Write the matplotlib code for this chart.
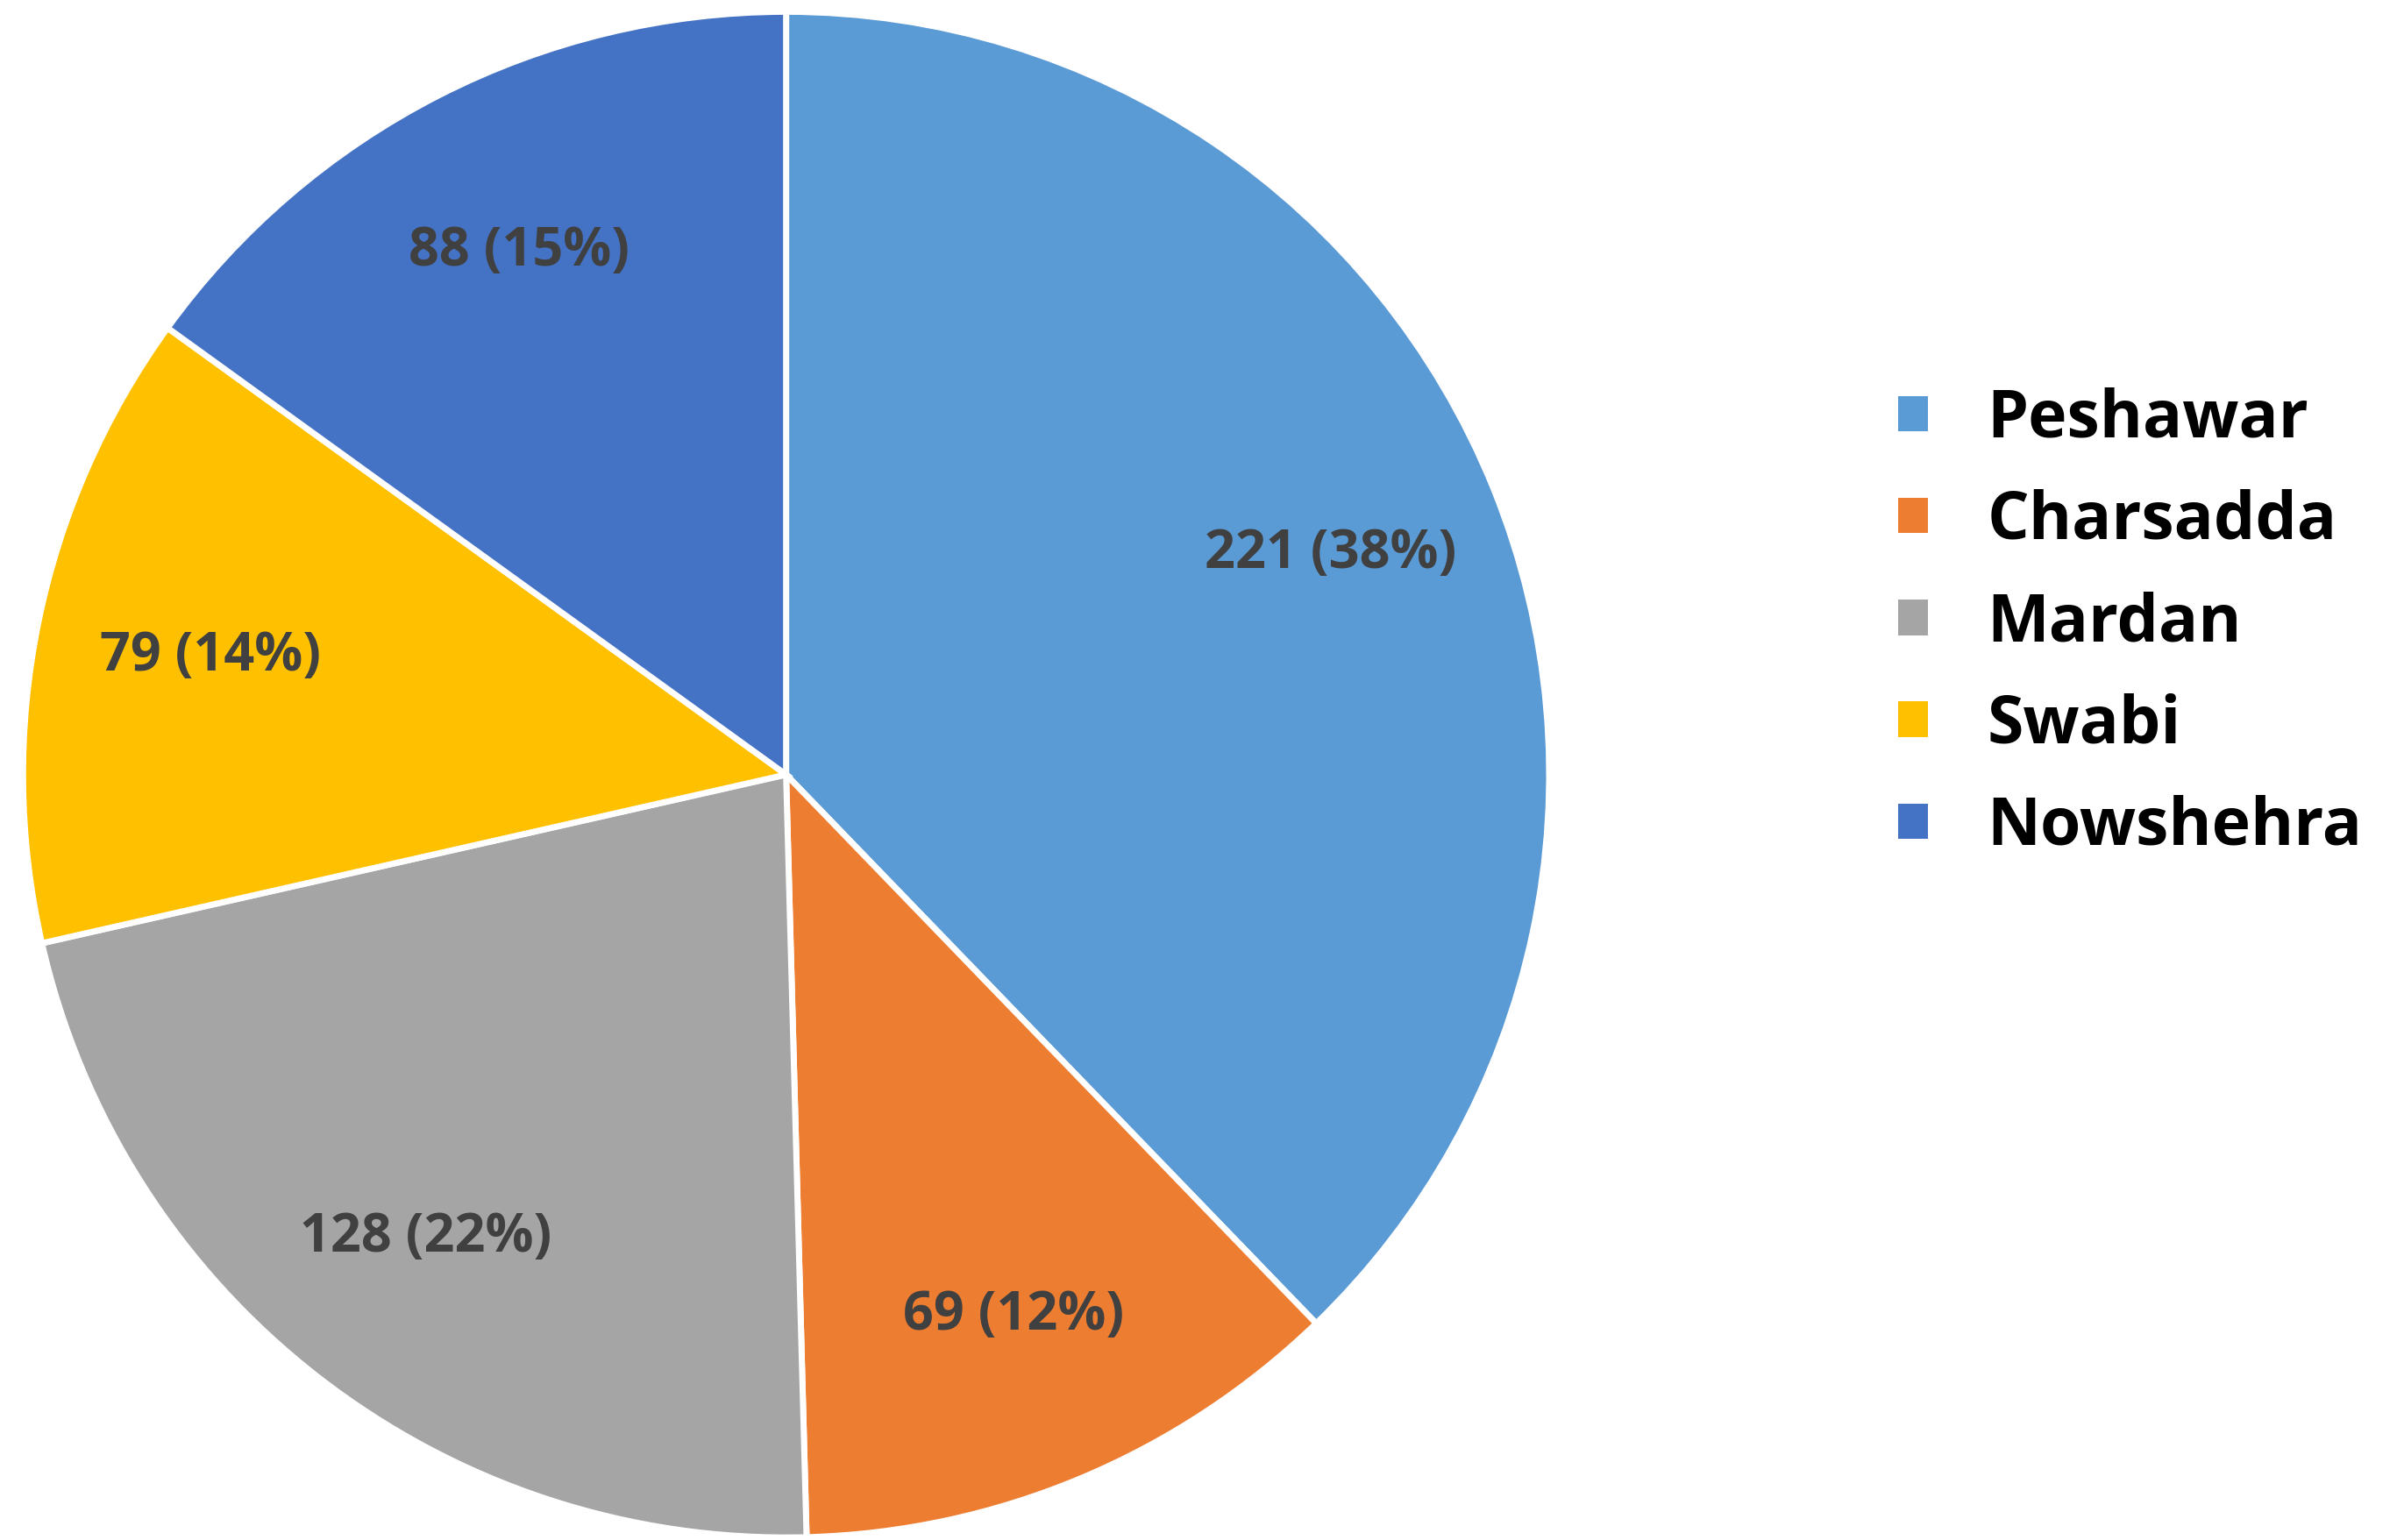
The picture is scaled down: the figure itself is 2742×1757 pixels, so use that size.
import matplotlib.pyplot as plt
from matplotlib.patches import Patch

districts = ['Peshawar', 'Charsadda', 'Mardan', 'Swabi', 'Nowshehra']
counts = [221, 69, 128, 79, 88]
colors = ['#5B9BD5', '#ED7D31', '#A5A5A5', '#FFC000', '#4472C4']

total = sum(counts)

def fmt(pct):
    n = int(round(pct * total / 100.0))
    return f'{n} ({pct:.0f}%)'

fig = plt.figure(figsize=(27.42, 17.57), dpi=100)
ax = fig.add_axes([0.008, -0.001, 0.638, 0.996])
wedges, texts, autotexts = ax.pie(
    counts, colors=colors, startangle=90, counterclock=False,
    autopct=fmt, pctdistance=0.77, radius=1.0,
    wedgeprops=dict(edgecolor='white', linewidth=5),
    textprops=dict(fontsize=44, fontweight='bold', color='#404040',
                   family=['Open Sans', 'DejaVu Sans']))
ax.set_xlim(-1.005, 1.005)
ax.set_ylim(-1.005, 1.005)
ax.set_aspect('equal')

handles = [Patch(facecolor=c, edgecolor='none') for c in colors]
leg = fig.legend(handles, districts, loc='center left',
                 bbox_to_anchor=(0.765, 0.595), frameon=False,
                 handlelength=0.45, handleheight=0.45, handletextpad=0.9,
                 labelspacing=0.55,
                 prop=dict(size=54, weight='bold', family=['Open Sans', 'DejaVu Sans']))

fig.savefig('out.png', dpi=100, facecolor='white')
